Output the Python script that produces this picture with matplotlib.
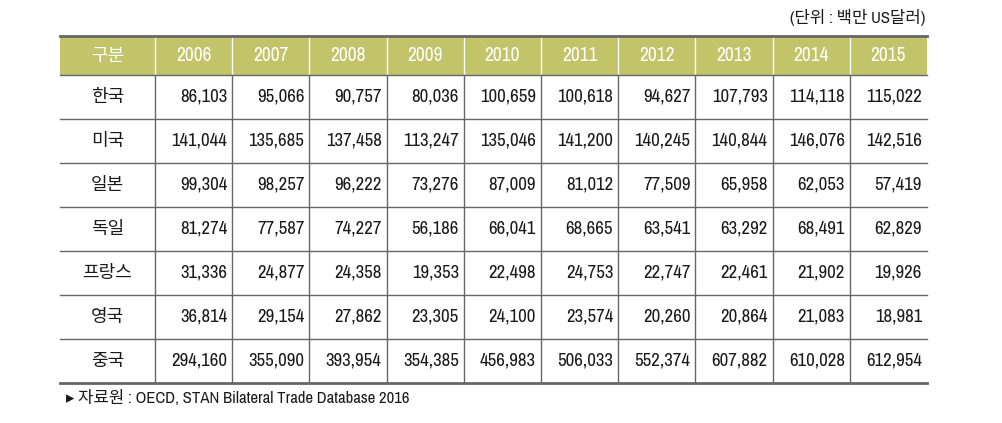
import matplotlib.pyplot as plt

# table data
years = ['2006', '2007', '2008', '2009', '2010', '2011', '2012', '2013', '2014', '2015']
countries = ['한국', '미국', '일본', '독일', '프랑스', '영국', '중국']
korea = [86103, 95066, 90757, 80036, 100659, 100618, 94627, 107793, 114118, 115022]
usa = [141044, 135685, 137458, 113247, 135046, 141200, 140245, 140844, 146076, 142516]
japan = [99304, 98257, 96222, 73276, 87009, 81012, 77509, 65958, 62053, 57419]
germany = [81274, 77587, 74227, 56186, 66041, 68665, 63541, 63292, 68491, 62829]
france = [31336, 24877, 24358, 19353, 22498, 24753, 22747, 22461, 21902, 19926]
uk = [36814, 29154, 27862, 23305, 24100, 23574, 20260, 20864, 21083, 18981]
china = [294160, 355090, 393954, 354385, 456983, 506033, 552374, 607882, 610028, 612954]
rows = [korea, usa, japan, germany, france, uk, china]

kr = ['Noto Sans CJK KR', 'DejaVu Sans']
num = ['Archivo Narrow', 'Noto Sans CJK KR', 'DejaVu Sans']

fig = plt.figure(figsize=(10.02, 4.23), dpi=100)
ax = fig.add_axes([0, 0, 1, 1])
ax.set_xlim(0, 1002)
ax.set_ylim(423, 0)
ax.axis('off')

left, right = 60, 927
first_w = 95
col_w = (right - left - first_w) / len(years)
top, head_h, row_h = 36, 39, 44
header_col = '#c3c46a'
line_col = '#666666'
txt_col = '#1a1a1a'

xs = [left + first_w + i * col_w for i in range(len(years) + 1)]

# header
ax.add_patch(plt.Rectangle((left, top), right - left, head_h, color=header_col, lw=0))
hy = top + head_h / 2
ax.text(left + first_w / 2, hy, '구분', color='white', fontsize=13, family=kr,
        ha='center', va='center')
for i, y in enumerate(years):
    ax.text(xs[i] + col_w / 2, hy, y, color='white', fontsize=14, family=num,
            ha='center', va='center')
    ax.plot([xs[i], xs[i]], [top, top + head_h], color='white', lw=1)

# body
for r, (c, vals) in enumerate(zip(countries, rows)):
    y0 = top + head_h + r * row_h
    cy = y0 + row_h / 2
    ax.text(left + first_w / 2, cy, c, color=txt_col, fontsize=13, family=kr,
            ha='center', va='center')
    for i, v in enumerate(vals):
        ax.text(xs[i + 1] - 5, cy, f'{v:,}', color=txt_col, fontsize=13.5, family=num,
                ha='right', va='center')
    if r > 0:
        ax.plot([left, right], [y0, y0], color=line_col, lw=1)

bottom = top + head_h + len(rows) * row_h
for x in xs[:-1]:
    ax.plot([x, x], [top + head_h, bottom], color=line_col, lw=1)
ax.plot([left, right], [top, top], color=line_col, lw=2)
ax.plot([left, right], [top + head_h, top + head_h], color=line_col, lw=1)
ax.plot([left, right], [bottom, bottom], color=line_col, lw=2)

ax.text(right - 2, 18, '(단위 : 백만 US달러)', fontsize=12, family=num, color=txt_col,
        ha='right', va='center')
ax.text(66, 398, '▸ 자료원 : OECD, STAN Bilateral Trade Database 2016', fontsize=12,
        family=num, color=txt_col, ha='left', va='center')

fig.savefig('out.png', dpi=100)
